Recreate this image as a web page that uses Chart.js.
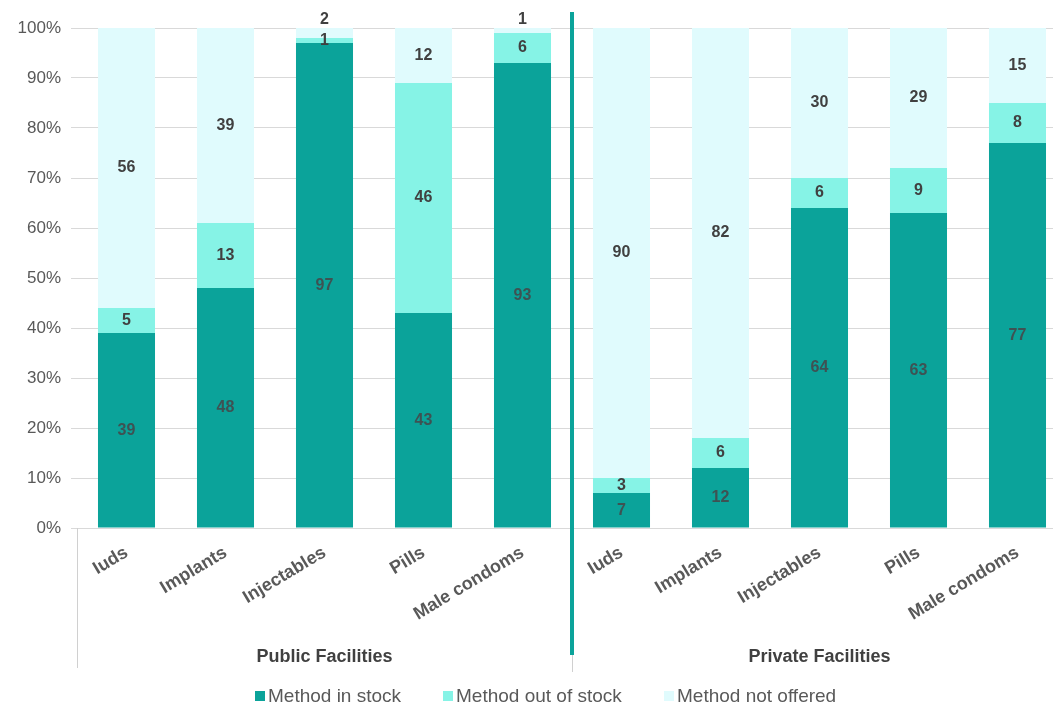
<!DOCTYPE html>
<html>
<head>
<meta charset="utf-8">
<script src="https://cdn.jsdelivr.net/npm/chart.js@4/dist/chart.umd.min.js"></script>
<style>
  html, body { margin: 0; padding: 0; background: #ffffff; overflow: hidden; }
  #wrap { position: relative; width: 1067px; height: 707px; }
</style>
</head>
<body>
<div id="wrap"><canvas id="c"></canvas></div>
<script>
// ---- data ----
const methods = ['Iuds', 'Implants', 'Injectables', 'Pills', 'Male condoms'];
const groups = ['Public Facilities', 'Private Facilities'];
const categories = methods.concat(methods);
const inStock    = [39, 48, 97, 43, 93,   7, 12, 64, 63, 77];
const outOfStock = [ 5, 13,  1, 46,  6,   3,  6,  6,  9,  8];
const notOffered = [56, 39,  2, 12,  1,  90, 82, 30, 29, 15];
const seriesNames = ['Method in stock', 'Method out of stock', 'Method not offered'];
const yTicks = [0, 10, 20, 30, 40, 50, 60, 70, 80, 90, 100];

const colors = ['#0ba39a', '#86f3e6', '#e0fbfd'];
const FONT = "'Liberation Sans', Arial, sans-serif";

const extras = {
  id: 'extras',
  afterDatasetsDraw(chart) {
    const ctx = chart.ctx;
    const area = chart.chartArea;
    const xs = chart.scales.x;
    ctx.save();
    // data labels
    ctx.textAlign = 'center';
    ctx.textBaseline = 'middle';
    chart.data.datasets.forEach((ds, di) => {
      const meta = chart.getDatasetMeta(di);
      meta.data.forEach((el, i) => {
        const v = ds.data[i];
        if (v == null) return;
        let top = Math.max(el.y, area.top);
        let y = (top + el.base) / 2;
        if (di === 2 && v <= 2) y = top - 8;
        ctx.font = 'bold 16px ' + FONT;
        ctx.fillStyle = di === 0 ? '#3e5253' : '#404040';
        ctx.fillText(String(v), el.x, y);
      });
    });
    // separators
    const sepX = (xs.getPixelForValue(4) + xs.getPixelForValue(5)) / 2;
    ctx.strokeStyle = '#d0d0d0';
    ctx.lineWidth = 1;
    ctx.beginPath();
    ctx.moveTo(Math.round(area.left) + 0.5, area.bottom);
    ctx.lineTo(Math.round(area.left) + 0.5, 668);
    ctx.moveTo(Math.round(sepX) + 0.5, area.bottom);
    ctx.lineTo(Math.round(sepX) + 0.5, 672);
    ctx.stroke();
    ctx.strokeStyle = colors[0];
    ctx.lineWidth = 4;
    ctx.beginPath();
    ctx.moveTo(sepX, 12);
    ctx.lineTo(sepX, 655);
    ctx.stroke();
    // group labels
    ctx.fillStyle = '#404040';
    ctx.font = 'bold 18px ' + FONT;
    ctx.fillText(groups[0], xs.getPixelForValue(2), 657);
    ctx.fillText(groups[1], xs.getPixelForValue(7), 657);
    // legend
    const legX = [255, 443, 664];
    ctx.font = '19px ' + FONT;
    ctx.textAlign = 'left';
    seriesNames.forEach((n, k) => {
      ctx.fillStyle = colors[k];
      ctx.fillRect(legX[k], 691, 10, 10);
      ctx.fillStyle = '#595959';
      ctx.fillText(n, legX[k] + 13, 697);
    });
    ctx.restore();
  }
};

new Chart(document.getElementById('c'), {
  type: 'bar',
  data: {
    labels: categories,
    datasets: [
      { label: seriesNames[0], data: inStock, backgroundColor: colors[0] },
      { label: seriesNames[1], data: outOfStock, backgroundColor: colors[1] },
      { label: seriesNames[2], data: notOffered, backgroundColor: colors[2] }
    ]
  },
  options: {
    responsive: true,
    maintainAspectRatio: false,
    animation: false,
    devicePixelRatio: 1,
    layout: { padding: { top: 28, left: 0, right: 0, bottom: 0 } },
    datasets: { bar: { barPercentage: 0.576, categoryPercentage: 1.0 } },
    plugins: { legend: { display: false }, tooltip: { enabled: false } },
    scales: {
      x: {
        stacked: true,
        grid: { display: false },
        border: { color: '#d9d9d9' },
        ticks: {
          autoSkip: false, minRotation: 31, maxRotation: 31, padding: 6,
          color: '#595959', font: { family: FONT, size: 18, weight: 'bold' }
        },
        afterFit(s) { s.height = 179; }
      },
      y: {
        stacked: true, min: 0, max: 100,
        afterBuildTicks(s) { s.ticks = yTicks.map(v => ({ value: v })); },
        grid: { color: '#d9d9d9', tickLength: 6, tickColor: '#d9d9d9' },
        border: { display: false },
        ticks: {
          padding: 10, color: '#595959', font: { family: FONT, size: 17 },
          callback: v => v + '%'
        },
        afterFit(s) { s.width = 77; }
      }
    }
  },
  plugins: [extras]
});
</script>
</body>
</html>
